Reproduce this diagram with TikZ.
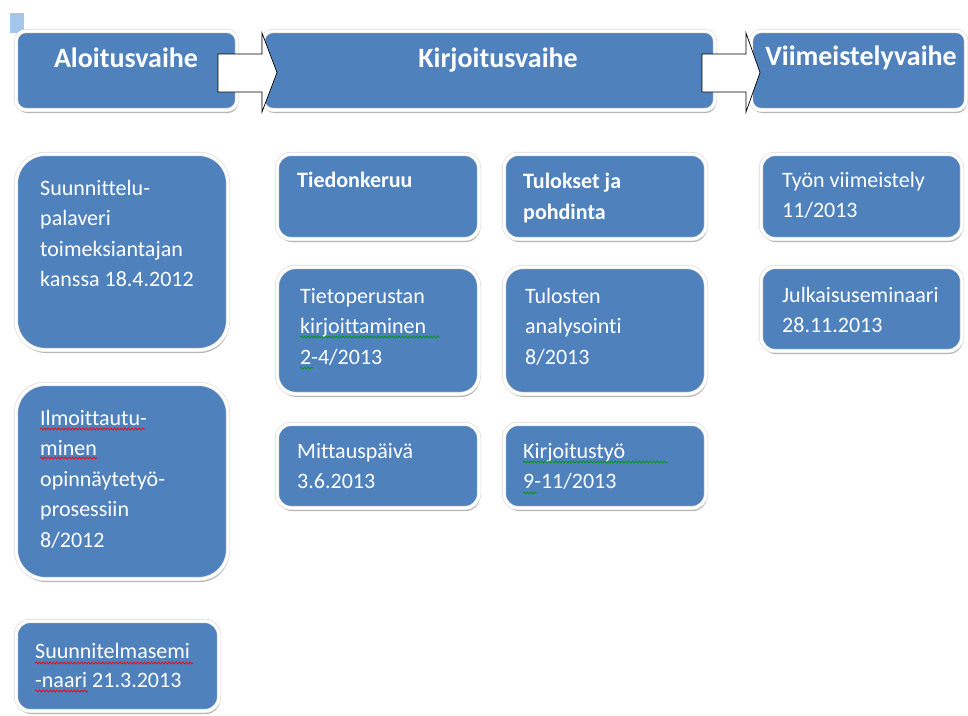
\documentclass[tikz,border=0pt]{standalone}
\usepackage{fontspec}
\setmainfont{Carlito}[Ligatures=NoCommon]
\usetikzlibrary{shadows, decorations.pathmorphing}

\definecolor{vaihesin}{HTML}{4F81BD}
\definecolor{valinta}{HTML}{A3C6EA}

\tikzset{
  laatikko/.style={fill=vaihesin, draw=gray!30, double=white, double distance=3pt,
    line width=0.6pt, rounded corners=#1,
    drop shadow={shadow xshift=1pt, shadow yshift=-3pt, opacity=0.3, fill=black}},
  laatikko/.default=14pt,
  otsikko/.style={text=white, font=\bfseries\fontsize{28}{34}\selectfont, anchor=base, inner sep=0pt},
  % base = viimeisen rivin perusviiva
  teksti/.style={text=white, font=\fontsize{22}{30.5}\selectfont, anchor=base west, align=left, inner sep=0pt},
  nuoli/.style={fill=white, draw=black, line width=0.7pt, line join=miter},
  tarkistus/.style={draw=#1, line width=0.7pt, decorate,
    decoration={snake, amplitude=1pt, segment length=3.5pt}},
}

\begin{document}
\begin{tikzpicture}[x=1pt, y=-1pt]
    \useasboundingbox (0,0) rectangle (968,715);
    \fill[valinta] (10,13) rectangle (24,33);

    % vaiheet
    \draw[laatikko=10pt] (16,31) rectangle (237,110);
    \draw[laatikko=10pt] (263,31) rectangle (715,110);
    \draw[laatikko=10pt] (751,31) rectangle (966,110);
    \node[otsikko] (aloitus) at (126,67) {Aloitusvaihe};
    \node[otsikko] (kirjoitus) at (498,67) {Kirjoitusvaihe};
    \node[otsikko] (viimeistely) at (861,65) {Viimeistelyvaihe};

    % aloitusvaihe
    \draw[laatikko=29pt] (16,154) rectangle (228,350);
    \draw[laatikko=29pt] (16,384) rectangle (228,579);
    \draw[laatikko] (16,621) rectangle (219,711);
    \node[teksti] (palaveri) at (40,286.5) {Suunnittelu-\\palaveri\\toimeksiantajan\\kanssa 18.4.2012};
    \node[teksti] (ilmoittautuminen) at (40,547) {Ilmoittautu-\\minen\\opinnäytetyö-\\prosessiin\\8/2012};
    \node[teksti, font=\fontsize{22}{29}\selectfont] (seminaari) at (35,687) {Suunnitelmasemi\\-naari 21.3.2013};

    % kirjoitusvaihe
    \draw[laatikko] (277,154) rectangle (479,239);
    \draw[laatikko] (504,154) rectangle (706,239);
    \draw[laatikko=19pt] (277,267) rectangle (479,394);
    \draw[laatikko=19pt] (504,267) rectangle (706,394);
    \draw[laatikko] (277,424) rectangle (479,508);
    \draw[laatikko] (504,424) rectangle (706,508);
    \node[teksti, font=\bfseries\fontsize{22}{31}\selectfont] (tiedonkeruu) at (297,187) {Tiedonkeruu};
    \node[teksti, font=\bfseries\fontsize{22}{31}\selectfont] (tulokset) at (523,219) {Tulokset ja\\pohdinta};
    \node[teksti] (tietoperusta) at (300,364) {Tietoperustan\\kirjoittaminen\\2-4/2013};
    \node[teksti] (analysointi) at (525,364) {Tulosten\\analysointi\\8/2013};
    \node[teksti] (mittaus) at (297,488.5) {Mittauspäivä\\3.6.2013};
    \node[teksti] (kirjoitustyo) at (523,488.5) {Kirjoitustyö\\9-11/2013};

    % viimeistelyvaihe
    \draw[laatikko] (761,154) rectangle (962,239);
    \draw[laatikko] (761,267) rectangle (962,351);
    \node[teksti] (tyon) at (782,217.5) {Työn viimeistely\\11/2013};
    \node[teksti] (julkaisu) at (782,332.5) {Julkaisuseminaari\\28.11.2013};

    % oikoluvun aaltoviivat
    \draw[tarkistus=red] (40,429) -- (145,429);
    \draw[tarkistus=red] (40,458) -- (97,458);
    \draw[tarkistus=red] (35,663) -- (193,663);
    \draw[tarkistus=red] (35,691) -- (88,691);
    \draw[tarkistus=green!60!black] (300,337) -- (440,337);
    \draw[tarkistus=green!60!black] (300,368) -- (313,368);
    \draw[tarkistus=green!60!black] (523,462) -- (667,462);
    \draw[tarkistus=green!60!black] (523,493) -- (537,493);

    % nuolet vaiheiden välissä
    \draw[nuoli] (218,54) -- (262,54) -- (262,33) -- (277,72.5) -- (262,112) -- (262,92) -- (218,92) -- cycle;
    \draw[nuoli] (702,54) -- (746,54) -- (746,33) -- (760,72.5) -- (746,112) -- (746,92) -- (702,92) -- cycle;
\end{tikzpicture}
\end{document}
